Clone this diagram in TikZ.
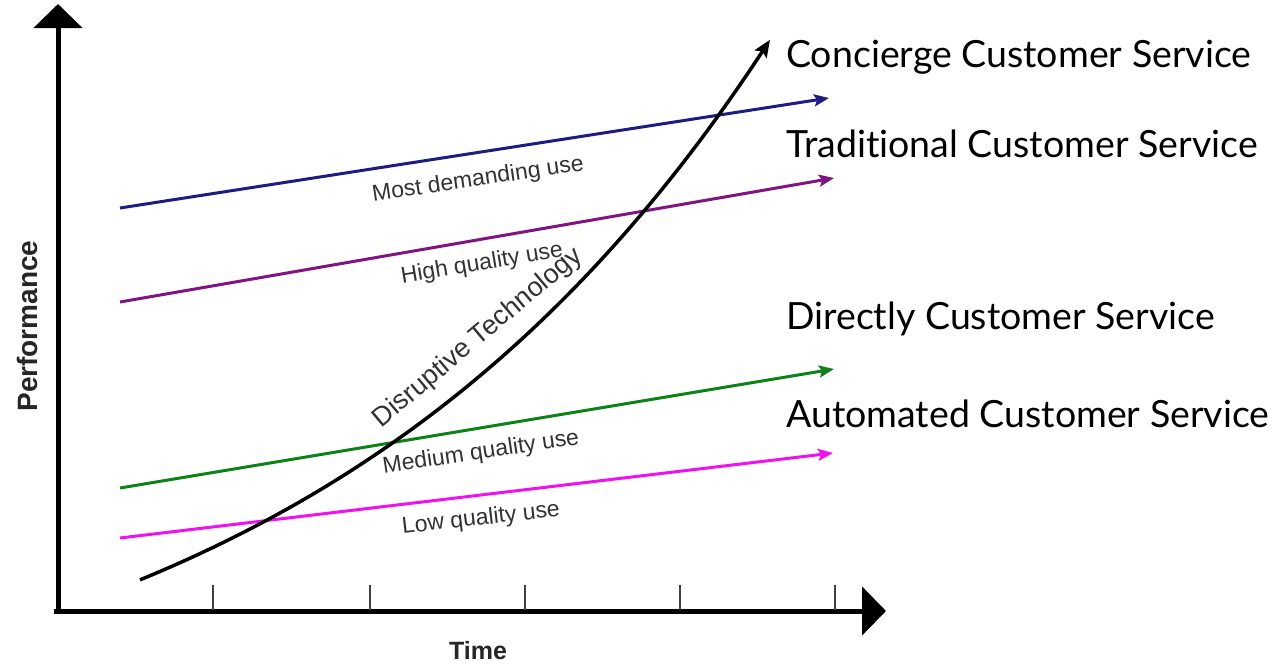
\documentclass[tikz,border=0pt]{standalone}
\usepackage{fontspec}
\setmainfont{Liberation Sans}
\newfontfamily\labfont[Ligatures={NoCommon,NoRequired,NoContextual}]{Lato}
\usetikzlibrary{arrows.meta}
\definecolor{cblue}{RGB}{28,28,130}
\definecolor{cpurple}{RGB}{128,20,128}
\definecolor{cgreen}{RGB}{16,128,24}
\definecolor{cmagenta}{RGB}{240,16,240}
\definecolor{ctext}{RGB}{50,50,50}
\tikzset{
  axis/.style={line width=5pt, -{Triangle[length=24pt,width=48pt]}},
  tickmark/.style={line width=1.3pt, draw=black!75},
  useline/.style={line width=3pt, -{Stealth[length=15pt,width=12pt,inset=3pt]}},
  curve/.style={line width=3.5pt, black, -{Stealth[length=17pt,width=14pt,inset=3pt]}},
  uselabel/.style={text=ctext, font=\fontsize{23}{26}\selectfont, inner sep=0pt},
  servlabel/.style={anchor=base west, inner sep=0pt, font=\labfont\fontsize{37.5}{42}\selectfont},
  axlabel/.style={text=black!85, font=\bfseries\fontsize{25}{28}\selectfont, inner sep=0pt}
}
\begin{document}
\begin{tikzpicture}[x=1pt,y=-1pt]
\useasboundingbox (0,0) rectangle (1284,664);
% axes
\coordinate (O) at (58,611);
\coordinate (ytop) at (58,4);
\coordinate (xend) at (886,611);
\draw[axis] (58,613) -- (ytop);
\draw[axis] (54,611) -- (xend);
\foreach \x [count=\i] in {213,370,525,680,835}{
  \coordinate (t\i) at (\x,585);
  \draw[tickmark] (t\i) -- (\x,610);
}
% lines
\coordinate (b0) at (120,208); \coordinate (b1) at (829,98);
\coordinate (p0) at (120,302); \coordinate (p1) at (834,178);
\coordinate (g0) at (120,488); \coordinate (g1) at (834,369);
\coordinate (m0) at (120,538); \coordinate (m1) at (833,453);
\draw[useline, cblue] (b0) -- (b1);
\draw[useline, cpurple] (p0) -- (p1);
\draw[useline, cgreen] (g0) -- (g1);
\draw[useline, cmagenta] (m0) -- (m1);
% disruptive curve
\draw[curve] plot[domain=140:770, samples=80, smooth] (\x, {580-145.3*(exp(0.0021*\x)-1.3418)});
% line labels
\node[uselabel, rotate=8.5] (lmost) at (478,180) {Most demanding use};
\node[uselabel, rotate=9.5] (lhigh) at (482,264) {High quality use};
\node[uselabel, rotate=8.5] (lmed) at (481,453) {Medium quality use};
\node[uselabel, rotate=6.5] (llow) at (481,519) {Low quality use};
\node[uselabel, rotate=40, font=\fontsize{27}{30}\selectfont] (ldis) at (478,338) {Disruptive Technology};
% axis labels
\node[axlabel, rotate=90, font=\bfseries\fontsize{28}{32}\selectfont] (perf) at (27,326) {Performance};
\node[axlabel] (time) at (478,651) {Time};
% service labels
\node[servlabel] (s1) at (786,67) {Concierge Customer Service};
\node[servlabel] (s2) at (786,157) {Tradit\kern0pt ional Customer Service};
\node[servlabel] (s3) at (786,329) {Directly Customer Service};
\node[servlabel] (s4) at (786,427) {Automated Customer Service};
\end{tikzpicture}
\end{document}
